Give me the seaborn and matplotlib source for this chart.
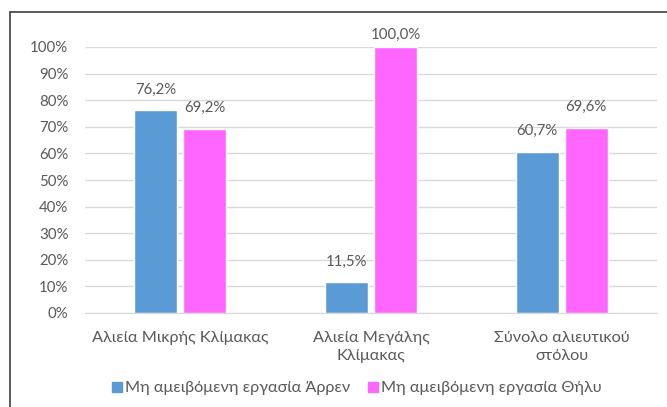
import numpy as np
import pandas as pd
import matplotlib.pyplot as plt
import seaborn as sns
from matplotlib.lines import Line2D

sns.set_style("white")
plt.rcParams['font.family'] = ['Lato', 'DejaVu Sans']

categories = ['Αλιεία Μικρής Κλίμακας', 'Αλιεία Μεγάλης\nΚλίμακας', 'Σύνολο αλιευτικού\nστόλου']
series = ['Μη αμειβόμενη εργασία Άρρεν', 'Μη αμειβόμενη εργασία Θήλυ']
male = [76.2, 11.5, 60.7]
female = [69.2, 100.0, 69.6]
colors = ['#5B9BD5', '#FF66FF']

df = pd.DataFrame({
    'cat': categories * 2,
    'series': [series[0]] * 3 + [series[1]] * 3,
    'value': male + female,
})

fs = 10.8      # numbers
fs_txt = 11.7  # greek text
fig = plt.figure(figsize=(6.67, 4.07), dpi=100)
ax = fig.add_axes([85 / 667, 1 - 313 / 407, 572 / 667, 266 / 407])

sns.barplot(data=df, x='cat', y='value', hue='series', order=categories,
            hue_order=series, palette=colors, width=0.514, gap=0.125,
            saturation=1, ax=ax, legend=False)

ax.set_ylim(0, 100)
ax.set_xlim(-0.5, 2.5)
ax.set_yticks(np.arange(0, 101, 10))
ax.set_yticklabels([f'{t}%' for t in range(0, 101, 10)])
ax.yaxis.grid(True, color='#d9d9d9', linewidth=1)
ax.set_axisbelow(True)
for s in ['top', 'right', 'left']:
    ax.spines[s].set_visible(False)
ax.spines['bottom'].set_color('#d9d9d9')
ax.tick_params(axis='both', length=0, colors='#595959')
ax.tick_params(axis='x', pad=13, labelsize=fs_txt)
ax.tick_params(axis='y', pad=12, labelsize=fs)
for lbl in ax.get_xticklabels():
    lbl.set_linespacing(1.4)
ax.set_xlabel('')
ax.set_ylabel('')

# value labels above bars (Excel pulls the top one down inside the plot area)
for cont in ax.containers:
    for bar, v in zip(cont, cont.datavalues):
        off = 4 if v >= 95 else 10
        ax.annotate(f'{v:.1f}%'.replace('.', ','),
                    (bar.get_x() + bar.get_width() / 2, bar.get_height()),
                    xytext=(0, off), textcoords='offset points',
                    ha='center', va='bottom', color='#595959', fontsize=fs,
                    annotation_clip=False)

handles = [Line2D([0], [0], marker='s', linestyle='none', markersize=6.5,
                  markerfacecolor=c, markeredgecolor=c) for c in colors]
fig.legend(handles, series, loc='center', bbox_to_anchor=(356 / 667, 1 - 388 / 407),
           ncol=2, frameon=False, fontsize=fs_txt, labelcolor='#595959',
           handletextpad=0.1, columnspacing=1.0, handlelength=0.8)

# outer chart frame (cropped)
fig.add_artist(Line2D([10 / 667, 1], [1 - 12 / 407] * 2, color='#404040', lw=1.2))
fig.add_artist(Line2D([10 / 667] * 2, [1 - 12 / 407, 0], color='#404040', lw=1.2))

fig.savefig('out.png', dpi=100)
